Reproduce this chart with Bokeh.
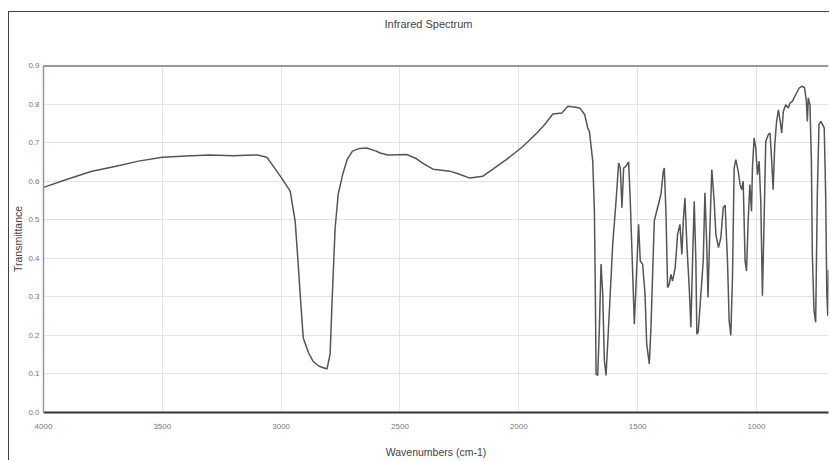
from bokeh.plotting import figure
from bokeh.models import Range1d, Span, FixedTicker, PrintfTickFormatter, Title
from bokeh.embed import file_html
from bokeh.resources import INLINE

title_text = "Infrared Spectrum"
x_label = "Wavenumbers (cm-1)"
y_label = "Transmittance"

wavenumber = [
    4000, 3900, 3800, 3700, 3600, 3500, 3400, 3300, 3200, 3150, 3100, 3060, 3046, 3000,
    2962, 2941, 2930, 2920, 2907, 2885, 2866, 2840, 2807, 2794, 2785, 2773, 2760, 2740,
    2723, 2700, 2670, 2640, 2600, 2584, 2550, 2472, 2430, 2400, 2361, 2290, 2250, 2206,
    2151, 2109, 2050, 1983, 1924, 1891, 1857, 1819, 1794, 1760, 1744, 1723, 1710, 1703,
    1689, 1682, 1678, 1675, 1668, 1661, 1654, 1647, 1640, 1633, 1619, 1605, 1591, 1580,
    1573, 1566, 1559, 1549, 1538, 1531, 1524, 1514, 1496, 1489, 1479, 1469, 1462, 1451,
    1444, 1430, 1420, 1409, 1402, 1392, 1388, 1381, 1374, 1367, 1360, 1353, 1342, 1332,
    1322, 1314, 1308, 1301, 1293, 1283, 1276, 1269, 1262, 1255, 1251, 1245, 1234, 1224,
    1217, 1210, 1204, 1196, 1188, 1178, 1171, 1160, 1150, 1140, 1132, 1122, 1115, 1108,
    1101, 1094, 1087, 1077, 1069, 1062, 1056, 1048, 1042, 1035, 1028, 1021, 1017, 1010,
    1003, 996, 989, 982, 975, 968, 961, 950, 943, 936, 930, 923, 916, 908,
    901, 894, 887, 877, 866, 859, 849, 842, 832, 821, 810, 798, 790, 786,
    782, 775, 769, 765, 758, 751, 744, 737, 729, 715, 709, 704, 700, 697,
]
transmittance = [
    0.584, 0.605, 0.625, 0.638, 0.652, 0.662, 0.665, 0.668, 0.666, 0.667, 0.668, 0.662, 0.650, 0.610,
    0.574, 0.496, 0.400, 0.307, 0.193, 0.155, 0.133, 0.120, 0.113, 0.152, 0.300, 0.478, 0.566, 0.620,
    0.655, 0.678, 0.685, 0.686, 0.678, 0.673, 0.668, 0.669, 0.658, 0.645, 0.631, 0.626, 0.618, 0.608,
    0.613, 0.631, 0.657, 0.690, 0.725, 0.747, 0.774, 0.777, 0.794, 0.792, 0.790, 0.773, 0.738, 0.729,
    0.652, 0.522, 0.307, 0.100, 0.096, 0.221, 0.385, 0.307, 0.134, 0.096, 0.264, 0.436, 0.548, 0.647,
    0.634, 0.531, 0.634, 0.639, 0.650, 0.548, 0.419, 0.229, 0.488, 0.393, 0.384, 0.307, 0.178, 0.126,
    0.221, 0.497, 0.522, 0.548, 0.566, 0.626, 0.634, 0.522, 0.324, 0.333, 0.358, 0.341, 0.376, 0.462,
    0.488, 0.410, 0.497, 0.557, 0.436, 0.324, 0.221, 0.393, 0.548, 0.393, 0.203, 0.210, 0.307, 0.393,
    0.570, 0.450, 0.298, 0.479, 0.630, 0.548, 0.462, 0.428, 0.453, 0.531, 0.538, 0.393, 0.238, 0.200,
    0.350, 0.634, 0.656, 0.626, 0.591, 0.578, 0.600, 0.393, 0.367, 0.497, 0.591, 0.522, 0.634, 0.712,
    0.686, 0.617, 0.652, 0.548, 0.303, 0.497, 0.703, 0.721, 0.725, 0.652, 0.578, 0.695, 0.751, 0.785,
    0.759, 0.725, 0.781, 0.798, 0.790, 0.803, 0.807, 0.816, 0.828, 0.841, 0.846, 0.843, 0.807, 0.755,
    0.816, 0.798, 0.652, 0.410, 0.264, 0.234, 0.566, 0.747, 0.755, 0.738, 0.566, 0.307, 0.251, 0.370,
]
x_ticks = [4000, 3500, 3000, 2500, 2000, 1500, 1000]
y_ticks = [0.0, 0.1, 0.2, 0.3, 0.4, 0.5, 0.6, 0.7, 0.8, 0.9]

FONT = "Liberation Sans"

p = figure(width=821, height=449, output_backend="svg", toolbar_location=None,
           x_range=Range1d(4000, 697), y_range=Range1d(0, 0.9),
           min_border_left=34, min_border_right=2, min_border_top=53, min_border_bottom=49,
           margin=(11, 0, 0, 8),
           styles={"border-left": "1px solid #444", "border-top": "1px solid #444"})
p.outline_line_color = None
p.background_fill_color = "white"
p.border_fill_color = "white"

# spacer between frame and title
p.add_layout(Title(text=" ", text_font_size="2px", standoff=32), "above")

p.title.text = title_text
p.title.align = "left"
p.title.offset = 341
p.title.text_font = FONT
p.title.text_font_size = "11px"
p.title.text_font_style = "normal"
p.title.text_color = "#444444"
p.title.standoff = 0

p.xaxis.ticker = FixedTicker(ticks=x_ticks)
p.yaxis.ticker = FixedTicker(ticks=y_ticks)
p.yaxis.formatter = PrintfTickFormatter(format="%.1f")
p.xgrid.ticker = FixedTicker(ticks=x_ticks)
p.ygrid.ticker = FixedTicker(ticks=y_ticks)
p.xgrid.grid_line_color = "#e4e4e4"
p.ygrid.grid_line_color = "#e4e4e4"

for ax in (p.xaxis, p.yaxis):
    ax.major_tick_out = 0
    ax.major_tick_in = 0
    ax.minor_tick_out = 0
    ax.minor_tick_in = 0
    ax.major_tick_line_color = None
    ax.minor_tick_line_color = None
    ax.major_label_text_font = FONT
    ax.major_label_text_font_size = "8px"
    ax.major_label_text_color = "#7a7a7a"
    ax.axis_label_text_font = FONT
    ax.axis_label_text_font_size = "10.5px"
    ax.axis_label_text_font_style = "normal"
    ax.axis_label_text_color = "#444444"

p.xaxis.axis_label = x_label
p.yaxis.axis_label = y_label
p.xaxis.axis_line_color = "#333333"
p.xaxis.axis_line_width = 2
p.yaxis.axis_line_color = "#999999"
p.yaxis.axis_line_width = 1.5
p.xaxis.major_label_standoff = 11
p.xaxis.axis_label_standoff = 14
p.yaxis.major_label_standoff = 4
p.yaxis.axis_label_standoff = 1

p.add_layout(Span(location=0.9, dimension="width", line_color="#333333", line_width=2))

p.line(wavenumber, transmittance, line_color="#555555", line_width=1.5)

open("out.html", "w").write(file_html(p, INLINE))
